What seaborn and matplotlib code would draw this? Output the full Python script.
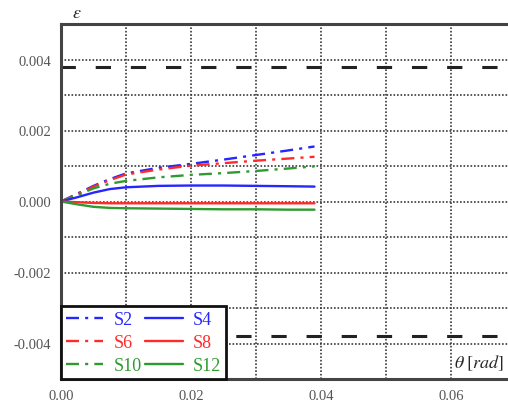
import matplotlib
matplotlib.use("Agg")
import matplotlib.pyplot as plt
import numpy as np
import pandas as pd
import seaborn as sns

sns.set_style("white")
plt.rcParams["font.family"] = ["Liberation Serif", "DejaVu Serif"]
plt.rcParams["mathtext.fontset"] = "stix"

# rotation angle samples [rad]
theta = [0.0, 0.0025, 0.005, 0.0075, 0.01, 0.015, 0.02, 0.025, 0.03, 0.035, 0.039]

# strain per gauge
s2 = [0.0, 0.00022, 0.00044, 0.00063, 0.00079, 0.00095, 0.00106, 0.00118, 0.00131, 0.00144, 0.00155]
s6 = [0.0, 0.00020, 0.00042, 0.00060, 0.00076, 0.00090, 0.00101, 0.00108, 0.00115, 0.00121, 0.00126]
s10 = [0.0, 0.00018, 0.00037, 0.00050, 0.00058, 0.00068, 0.00075, 0.00080, 0.00086, 0.00093, 0.00099]
s4 = [0.0, 0.00012, 0.00025, 0.00035, 0.00040, 0.00044, 0.00045, 0.00045, 0.00044, 0.00043, 0.00042]
s8 = [0.0, -0.00002, -0.00004, -0.00005, -0.00005, -0.00005, -0.00005, -0.00005, -0.00005, -0.00005, -0.00005]
s12 = [0.0, -0.00008, -0.00015, -0.00018, -0.00019, -0.00020, -0.00021, -0.00022, -0.00022, -0.00023, -0.00023]

# yield strain limits
eps_yield = 0.0038

x_ticks = [0.00, 0.02, 0.04, 0.06]
y_ticks = [-0.004, -0.002, 0.000, 0.002, 0.004]

blue = "#2626ff"
red = "#ff2b2b"
green = "#2f9a2f"
dashdot = (0, (5.5, 2.6, 1.3, 2.6))

series = [
    ("S2", s2, blue, dashdot),
    ("S6", s6, red, dashdot),
    ("S10", s10, green, dashdot),
    ("S4", s4, blue, "-"),
    ("S8", s8, red, "-"),
    ("S12", s12, green, "-"),
]

fig = plt.figure(figsize=(5.08, 4.06), dpi=100)
W, H = 508, 406
ax = fig.add_axes([61 / W, (H - 380) / H, 455 / W, 355 / H])

for name, vals, col, ls in series:
    df = pd.DataFrame({"theta": theta, "eps": vals})
    sns.lineplot(data=df, x="theta", y="eps", ax=ax, color=col, lw=1.7,
                 linestyle=ls, label=name, estimator=None, sort=False)

for yv in (eps_yield, -eps_yield):
    ax.axhline(yv, color="#222222", lw=2.2, linestyle=(0.3, (5, 6.5)), zorder=1)

ax.set_xlim(0, 0.07)
ax.set_ylim(-0.005, 0.005)
ax.set_xticks(x_ticks)
ax.set_xticklabels([f"{v:.2f}" for v in x_ticks])
ax.set_yticks(y_ticks)
ax.set_yticklabels([f"{v:.3f}" for v in y_ticks])
ax.set_xticks(np.arange(0, 0.0701, 0.01), minor=True)
ax.set_yticks(np.arange(-0.005, 0.00501, 0.001), minor=True)
ax.grid(which="both", color="#3a3a3a", lw=1.2, linestyle=(0, (1, 1.1)))
ax.set_axisbelow(True)
ax.tick_params(axis="both", which="major", labelsize=10.5, labelcolor="#555555",
               length=0, pad=7)
ax.tick_params(which="minor", length=0)
ax.set_xlabel("")
ax.set_ylabel("")

for side in ("left", "top", "bottom"):
    ax.spines[side].set_color("#444444")
    ax.spines[side].set_linewidth(2.2)
ax.spines["right"].set_visible(False)

leg = ax.legend(ncol=2, loc="lower left", borderaxespad=0, fontsize=13,
                handlelength=2.1, handletextpad=0.55, columnspacing=0.2,
                labelspacing=0.35, borderpad=0.25, fancybox=False,
                framealpha=1, edgecolor="#111111", labelcolor="linecolor")
leg.get_frame().set_linewidth(2.0)

fig.text(72 / W, 1 - 13 / H, r"$\varepsilon$", fontsize=13, ha="left", va="center")
fig.text(504 / W, 1 - 363 / H, r"$\theta\;[rad]$", fontsize=13, ha="right",
         va="center")

fig.savefig("out.png", dpi=100)
